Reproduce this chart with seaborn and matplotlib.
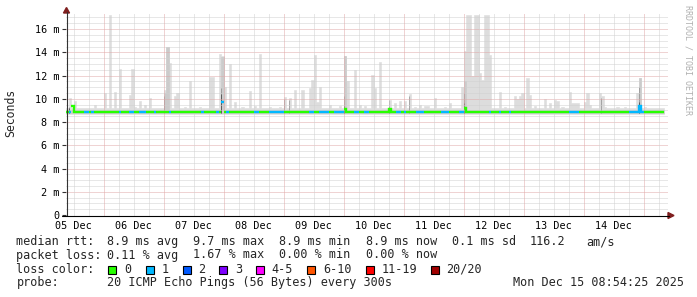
import numpy as np
import pandas as pd
import matplotlib
matplotlib.use("Agg")
import matplotlib.pyplot as plt
import matplotlib.dates as mdates
from matplotlib.patches import Rectangle, Polygon
from matplotlib.lines import Line2D
import seaborn as sns

# ---------------- data ----------------
range_start = "2025-12-05 08:54:25"
range_end = "2025-12-15 08:54:25"
bin_origin = "2025-12-05 00:00"
first_bin_hour = 9
last_bin_hour = 247

base_min_ms = 8.72
base_low_ms = 8.80
base_high_ms = 9.05
base_max_ms = 9.22
base_median_ms = 8.90

spike_hour = [10, 12, 20, 24, 26, 28, 30, 34, 35, 36,
              38, 40, 42, 48, 49, 50, 52, 53, 56, 58,
              62, 66, 67, 70, 71, 72, 74, 76, 79, 82,
              84, 86, 90, 94, 96, 98, 100, 103, 106, 107,
              108, 109, 110, 114, 118, 120, 121, 124, 126, 128,
              131, 132, 134, 138, 140, 142, 144, 146, 148, 150,
              152, 153, 156, 160, 162, 167, 168, 169, 170, 171,
              172, 173, 174, 175, 176, 177, 178, 182, 184, 188,
              189, 190, 191, 193, 194, 196, 200, 202, 204, 205,
              207, 210, 211, 212, 213, 216, 217, 218, 222, 223,
              224, 229, 232, 237, 238, 240, 243]
spike_max_ms = [10.1, 9.8, 9.5, 10.5, 17.25, 10.6, 12.55, 10.3, 12.6, 9.3,
                9.8, 9.5, 10.05, 10.8, 14.5, 13.1, 10.2, 10.5, 9.3, 11.5,
                9.3, 11.9, 11.9, 13.9, 13.65, 11.0, 13.0, 9.75, 9.3, 10.65,
                9.4, 13.85, 9.3, 9.3, 10.15, 10.05, 10.75, 10.75, 10.9, 11.65,
                13.8, 9.75, 11.0, 9.5, 9.4, 13.7, 11.5, 12.5, 9.5, 9.4,
                12.05, 10.9, 13.2, 9.9, 9.6, 9.8, 9.8, 10.4, 9.3, 9.5,
                9.4, 9.4, 10.1, 9.3, 9.6, 11.0, 14.1, 17.25, 17.25, 12.0,
                17.25, 17.25, 12.2, 11.6, 17.25, 17.25, 13.8, 10.6, 9.3, 10.2,
                10.0, 10.2, 10.5, 11.8, 10.3, 9.4, 10.0, 9.6, 9.9, 9.8,
                9.3, 10.55, 9.6, 9.6, 9.6, 9.7, 10.5, 9.5, 10.5, 10.2,
                9.3, 9.3, 9.3, 10.5, 11.8, 9.3, 9.2]

mid_hour = [48, 49, 71, 120, 168, 238]
mid_top_ms = [10.5, 14.5, 13.6, 13.7, 11.5, 11.8]
dark_hour = [10, 48, 71, 96, 98, 120, 138, 146, 168, 223, 238]
dark_top_ms = [9.3, 10.2, 10.9, 10.0, 9.9, 10.2, 9.9, 10.2, 10.5, 10.1, 11.0]
core_hour = [10, 71, 120, 138, 168, 238]
core_top_ms = [9.2, 10.4, 9.35, 9.3, 9.6, 9.7]

median_hour = [11, 71, 120, 138, 168, 238]
median_ms = [9.35, 9.7, 9.1, 9.1, 9.2, 9.35]

loss1_hour = [10, 16, 17, 19, 30, 34, 35, 38, 39, 40, 44, 50, 63, 69, 71, 73,
              84, 85, 90, 91, 92, 93, 94, 95, 106, 107, 110, 111, 112, 113,
              116, 117, 118, 119, 124, 125, 128, 129, 141, 142, 144, 149, 150, 151,
              159, 160, 161, 166, 167, 178, 182, 186, 210, 211, 212, 213,
              234, 235, 236, 237, 238, 239]

y_tick_values = [0, 2, 4, 6, 8, 10, 12, 14, 16]
y_tick_labels = ["0", "2 m", "4 m", "6 m", "8 m", "10 m", "12 m", "14 m", "16 m"]
day_labels = ["05 Dec", "06 Dec", "07 Dec", "08 Dec", "09 Dec",
              "10 Dec", "11 Dec", "12 Dec", "13 Dec", "14 Dec"]

loss_labels = ["0", "1", "2", "3", "4-5", "6-10", "11-19", "20/20"]
loss_colors = ["#26ff00", "#00b8ff", "#0059ff", "#7e00ff",
               "#ff00ff", "#ff5500", "#ff0000", "#a00000"]
rtt_stats = ["8.9 ms avg", "9.7 ms max", "8.9 ms min", "8.9 ms now", "0.1 ms sd", "116.2", "am/s"]
loss_stats = ["0.11 % avg", "1.67 % max", "0.00 % min", "0.00 % now"]
probe_text = "20 ICMP Echo Pings (56 Bytes) every 300s"
stamp_text = "Mon Dec 15 08:54:25 2025"

# ---------------- build table ----------------
df = pd.DataFrame({"hour": np.arange(first_bin_hour, last_bin_hour + 1)})
df["max"] = base_max_ms
df.loc[df.hour.isin(spike_hour), "max"] = df.hour.map(dict(zip(spike_hour, spike_max_ms)))
df["mid"] = base_high_ms
df.loc[df.hour.isin(mid_hour), "mid"] = df.hour.map(dict(zip(mid_hour, mid_top_ms)))
df["dark"] = np.nan
df.loc[df.hour.isin(dark_hour), "dark"] = df.hour.map(dict(zip(dark_hour, dark_top_ms)))
df["core"] = np.nan
df.loc[df.hour.isin(core_hour), "core"] = df.hour.map(dict(zip(core_hour, core_top_ms)))
df["median"] = base_median_ms
df.loc[df.hour.isin(median_hour), "median"] = df.hour.map(dict(zip(median_hour, median_ms)))
df["loss"] = np.where(df.hour.isin(loss1_hour), "1", "0")
origin = pd.Timestamp(bin_origin)
df["t0"] = mdates.date2num(origin + pd.to_timedelta(df.hour, unit="h"))
df["t1"] = mdates.date2num(origin + pd.to_timedelta(df.hour + 1, unit="h"))
df["run"] = (df.loss != df.loss.shift()).cumsum()

# ---------------- figure ----------------
W, H = 697, 297
sns.set_theme(style="white")
plt.rcParams["font.family"] = ["DejaVu Sans Mono", "DejaVu Sans"]
plt.rcParams["lines.scale_dashes"] = False
fig = plt.figure(figsize=(W / 100, H / 100), dpi=100)
fig.patch.set_facecolor("white")

L, R, T, B = 66.0, 666.0, 14.0, 215.0
ax = fig.add_axes([L / W, 1 - B / H, (R - L) / W, (B - T) / H])
ax.set_facecolor("white")
x0 = mdates.date2num(pd.Timestamp(range_start))
x1 = mdates.date2num(pd.Timestamp(range_end))
ax.set_xlim(x0, x1)
ax.set_ylim(0, 17.3)
for s in ax.spines.values():
    s.set_visible(False)

# smoke layers (step areas)
xs = np.append(df.t0.values, df.t1.values[-1])
def stepvals(v):
    v = np.asarray(v, dtype=float)
    return np.append(v, v[-1])

for lo, col_name, color, z in [(base_min_ms, "max", "#dddddd", 1),
                               (base_low_ms, "mid", "#cbcbcb", 2),
                               (base_low_ms, "dark", "#7a7a7a", 3),
                               (base_low_ms, "core", "#2a2a2a", 4)]:
    ax.fill_between(xs, lo, stepvals(df[col_name]), step="post", facecolor=color,
                    edgecolor=color, lw=0.4, zorder=z, antialiased=True)

# grid: fine dotted lines, light tone (below the median line)
def fx(x):
    return x / W
def fy(y):
    return 1 - y / H

gkw = dict(lw=0.72, ls=(0, (0.72, 0.72)), zorder=5, clip_on=False)
minor_col, major_col = "#d0d0d0", "#e0a8a8"
for k in range(1, 35):
    yv = 0.5 * k
    col = major_col if k % 4 == 0 else minor_col
    ax.plot([x0, x1 + 0.04], [yv, yv], color=col, **gkw)
grid_times = pd.date_range("2025-12-05 12:00", "2025-12-15 06:00", freq="6h")
for gt in grid_times:
    gx = mdates.date2num(gt)
    col = major_col if gt.hour == 0 else minor_col
    ax.plot([gx, gx], [0, 17.4], color=col, **gkw)

# median line coloured by loss
seg = pd.concat([df.assign(t=df.t0, k=0), df.assign(t=df.t1, k=1)])
seg = seg.sort_values(["hour", "k"]).reset_index(drop=True)
n_before = len(ax.lines)
sns.lineplot(data=seg, x="t", y="median", hue="loss", units="run", estimator=None,
             sort=False, palette={"0": loss_colors[0], "1": loss_colors[1]},
             linewidth=1.7, legend=False, ax=ax,
             solid_capstyle="butt", solid_joinstyle="miter")
for ln in ax.lines[n_before:]:
    ln.set_zorder(7)
ax.set_xlabel("")
ax.set_ylabel("")

# ticks
ax.set_yticks(y_tick_values)
ax.set_yticklabels(y_tick_labels)
noon = [mdates.date2num(pd.Timestamp("2025-12-05 12:00") + pd.Timedelta(days=i))
        for i in range(len(day_labels))]
ax.set_xticks(noon)
ax.set_xticklabels(day_labels)
ax.tick_params(axis="y", length=3, width=0.8, pad=2.0, labelsize=7.3, color="#333333",
               left=True, direction="out")
ax.tick_params(axis="x", length=0, pad=4.0, labelsize=7.3)
for lab in ax.get_xticklabels() + ax.get_yticklabels():
    lab.set_family("DejaVu Sans Mono")
    lab.set_color("black")

# axes lines and arrows (pixel coordinates)
arrow_col = "#7f1f1f"
fig.add_artist(Line2D([fx(66.5), fx(66.5)], [fy(215.5), fy(12)], color="#333333", lw=0.8))
fig.add_artist(Line2D([fx(62), fx(669)], [fy(215.5), fy(215.5)], color="black", lw=0.8))
fig.add_artist(Polygon([[fx(63.5), fy(13)], [fx(69.5), fy(13)], [fx(66.5), fy(7.5)]],
                       closed=True, color=arrow_col, transform=fig.transFigure))
fig.add_artist(Polygon([[fx(668), fy(212.5)], [fx(668), fy(218.5)], [fx(674), fy(215.5)]],
                       closed=True, color=arrow_col, transform=fig.transFigure))

# axis title and watermark
fig.text(fx(10.5), fy(113), "Seconds", rotation=90, ha="center", va="center",
         fontsize=8.3, family="DejaVu Sans Mono")
fig.text(fx(688), fy(60), "RRDTOOL / TOBI OETIKER", rotation=270, ha="center", va="center",
         fontsize=6.0, color="#b0b0b0", family="DejaVu Sans Mono")

# legend block
lfs = 8.5
fam = "DejaVu Sans Mono"
row_y = [241.7, 255.0, 269.3, 282.7]
fig.text(fx(16.5), fy(row_y[0]), "median rtt:", fontsize=lfs, family=fam, va="center")
for xp, txt in zip([107.3, 193.3, 279.3, 365.7, 451.7, 530.0, 586.7], rtt_stats):
    fig.text(fx(xp), fy(row_y[0]), txt, fontsize=lfs, family=fam, va="center")
fig.text(fx(16.5), fy(row_y[1]), "packet loss:", fontsize=lfs, family=fam, va="center")
for xp, txt in zip([107.3, 193.3, 279.3, 365.7], loss_stats):
    fig.text(fx(xp), fy(row_y[1]), txt, fontsize=lfs, family=fam, va="center")
fig.text(fx(16.5), fy(row_y[2]), "loss color:", fontsize=lfs, family=fam, va="center")
box_x = [108.3, 145.7, 182.7, 219.3, 256.0, 307.3, 365.7, 430.7]
for bx, lab, col in zip(box_x, loss_labels, loss_colors):
    fig.add_artist(Rectangle((fx(bx), fy(273.5)), 8 / W, 8 / H, transform=fig.transFigure,
                             facecolor=col, edgecolor="black", lw=0.8))
    fig.text(fx(bx + 15.7), fy(row_y[2]), lab, fontsize=lfs, family=fam, va="center")
fig.text(fx(16.5), fy(row_y[3]), "probe:", fontsize=lfs, family=fam, va="center")
fig.text(fx(107.3), fy(row_y[3]), probe_text, fontsize=lfs, family=fam, va="center")
fig.text(fx(513.3), fy(row_y[3]), stamp_text, fontsize=lfs, family=fam, va="center")

fig.savefig("out.png", dpi=100, facecolor="white")
